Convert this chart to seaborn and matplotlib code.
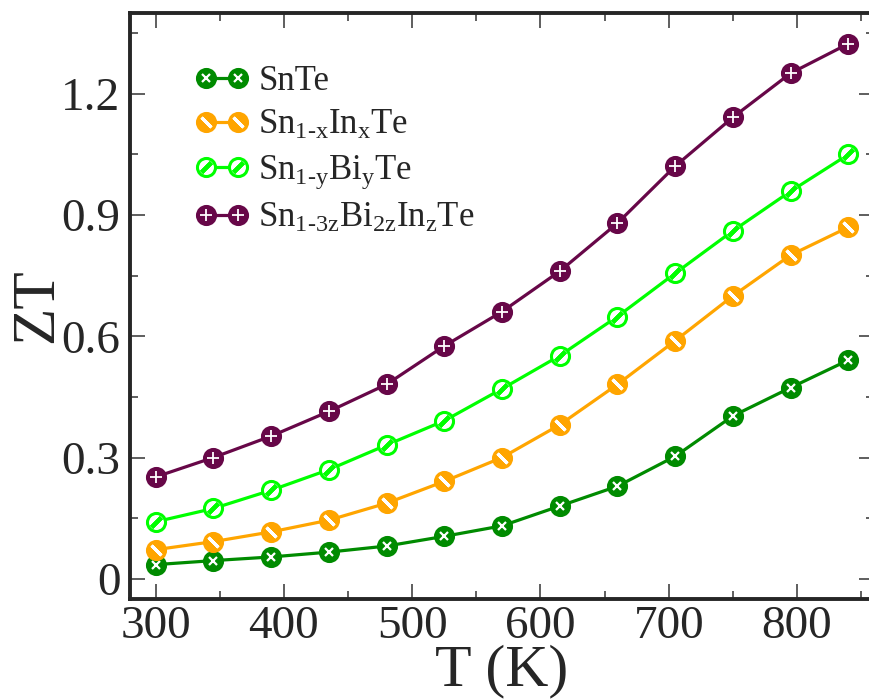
import numpy as np
import pandas as pd
import matplotlib
matplotlib.use("Agg")
import matplotlib.pyplot as plt
from matplotlib.legend_handler import HandlerTuple
from matplotlib.lines import Line2D
from matplotlib.ticker import MultipleLocator
import seaborn as sns

# data
temps = [300, 345, 390, 435, 480, 525, 570, 615, 660, 705, 750, 795, 840]
zt_snte = [0.035, 0.045, 0.054, 0.066, 0.081, 0.105, 0.131, 0.180, 0.229, 0.303, 0.403, 0.473, 0.541]
zt_in = [0.072, 0.092, 0.116, 0.145, 0.187, 0.241, 0.300, 0.381, 0.481, 0.589, 0.700, 0.801, 0.870]
zt_bi = [0.141, 0.174, 0.219, 0.270, 0.331, 0.391, 0.470, 0.552, 0.649, 0.756, 0.861, 0.959, 1.050]
zt_biin = [0.252, 0.300, 0.353, 0.414, 0.481, 0.576, 0.661, 0.761, 0.880, 1.021, 1.142, 1.251, 1.324]

labels = [
    "SnTe",
    r"Sn$_{1\text{-}x}$In$_{x}$Te",
    r"Sn$_{1\text{-}y}$Bi$_{y}$Te",
    r"Sn$_{1\text{-}3z}$Bi$_{2z}$In$_{z}$Te",
]
colors = ["#008b00", "#ffa500", "#00ff00", "#670748"]

sns.set_style("ticks")
plt.rcParams["font.family"] = "serif"
plt.rcParams["font.serif"] = ["Liberation Serif", "DejaVu Serif"]
plt.rcParams["mathtext.fontset"] = "custom"
plt.rcParams["mathtext.rm"] = "Liberation Serif"
plt.rcParams["mathtext.it"] = "Liberation Serif"
plt.rcParams["mathtext.bf"] = "Liberation Serif:bold"

df = pd.DataFrame({"T": temps * 4,
                   "ZT": zt_snte + zt_in + zt_bi + zt_biin,
                   "sample": sum([[l] * len(temps) for l in labels], [])})

fig = plt.figure(figsize=(8.7, 7), dpi=100)
ax = fig.add_axes([0.1494, 0.1443, 0.8552, 0.8371])

# face colour and overlay pattern for each marker (imitating the hatched symbols)
faces = ["#008b00", "#ffa500", "white", "#670748"]
over_marker = ["x", (2, 2, 45), (2, 2, -45), "+"]
over_color = ["white", "white", "#00ff00", "white"]
over_size = [6, 10, 10, 8]
over_mew = [1.6, 2.2, 3.0, 1.3]

handles = []
for i, lab in enumerate(labels):
    sub = df[df["sample"] == lab]
    style = dict(color=colors[i], lw=2.3, marker="o", markersize=13,
                 markerfacecolor=faces[i], markeredgecolor=colors[i],
                 markeredgewidth=2.2)
    sns.lineplot(data=sub, x="T", y="ZT", ax=ax, legend=False, **style)
    over = dict(ls="none", marker=over_marker[i], ms=over_size[i],
                mec=over_color[i], mfc=over_color[i], mew=over_mew[i])
    ax.plot(sub["T"], sub["ZT"], **over)
    handles.append((Line2D([], [], **style), Line2D([], [], **over)))

ax.set_xlim(280, 860)
ax.set_ylim(-0.05, 1.4)
ax.xaxis.set_major_locator(MultipleLocator(100))
ax.xaxis.set_minor_locator(MultipleLocator(50))
ax.yaxis.set_minor_locator(MultipleLocator(0.15))
ax.set_yticks([0, 0.3, 0.6, 0.9, 1.2])
ax.set_yticklabels(["0", "0.3", "0.6", "0.9", "1.2"])
ax.tick_params(which="both", direction="in", top=True, right=True,
               labelsize=34, width=1.1, color="#333333")
ax.tick_params(which="major", length=11)
ax.tick_params(which="minor", length=5.5)
ax.tick_params(axis="x", which="major", pad=5)
ax.tick_params(axis="y", which="major", pad=7)
for s in ax.spines.values():
    s.set_linewidth(2.8)

ax.set_xlabel("T (K)", fontsize=43, labelpad=-3)
ax.set_ylabel("ZT", fontsize=44, labelpad=-3)

ax.legend(handles, labels, handler_map={tuple: HandlerTuple(ndivide=1, pad=0)},
          numpoints=2, handlelength=1.52, handletextpad=0.276, labelspacing=0.32,
          fontsize=25, frameon=False, loc="upper left",
          bbox_to_anchor=(0.07, 0.935), borderaxespad=0)

fig.savefig("out.png", dpi=100)
